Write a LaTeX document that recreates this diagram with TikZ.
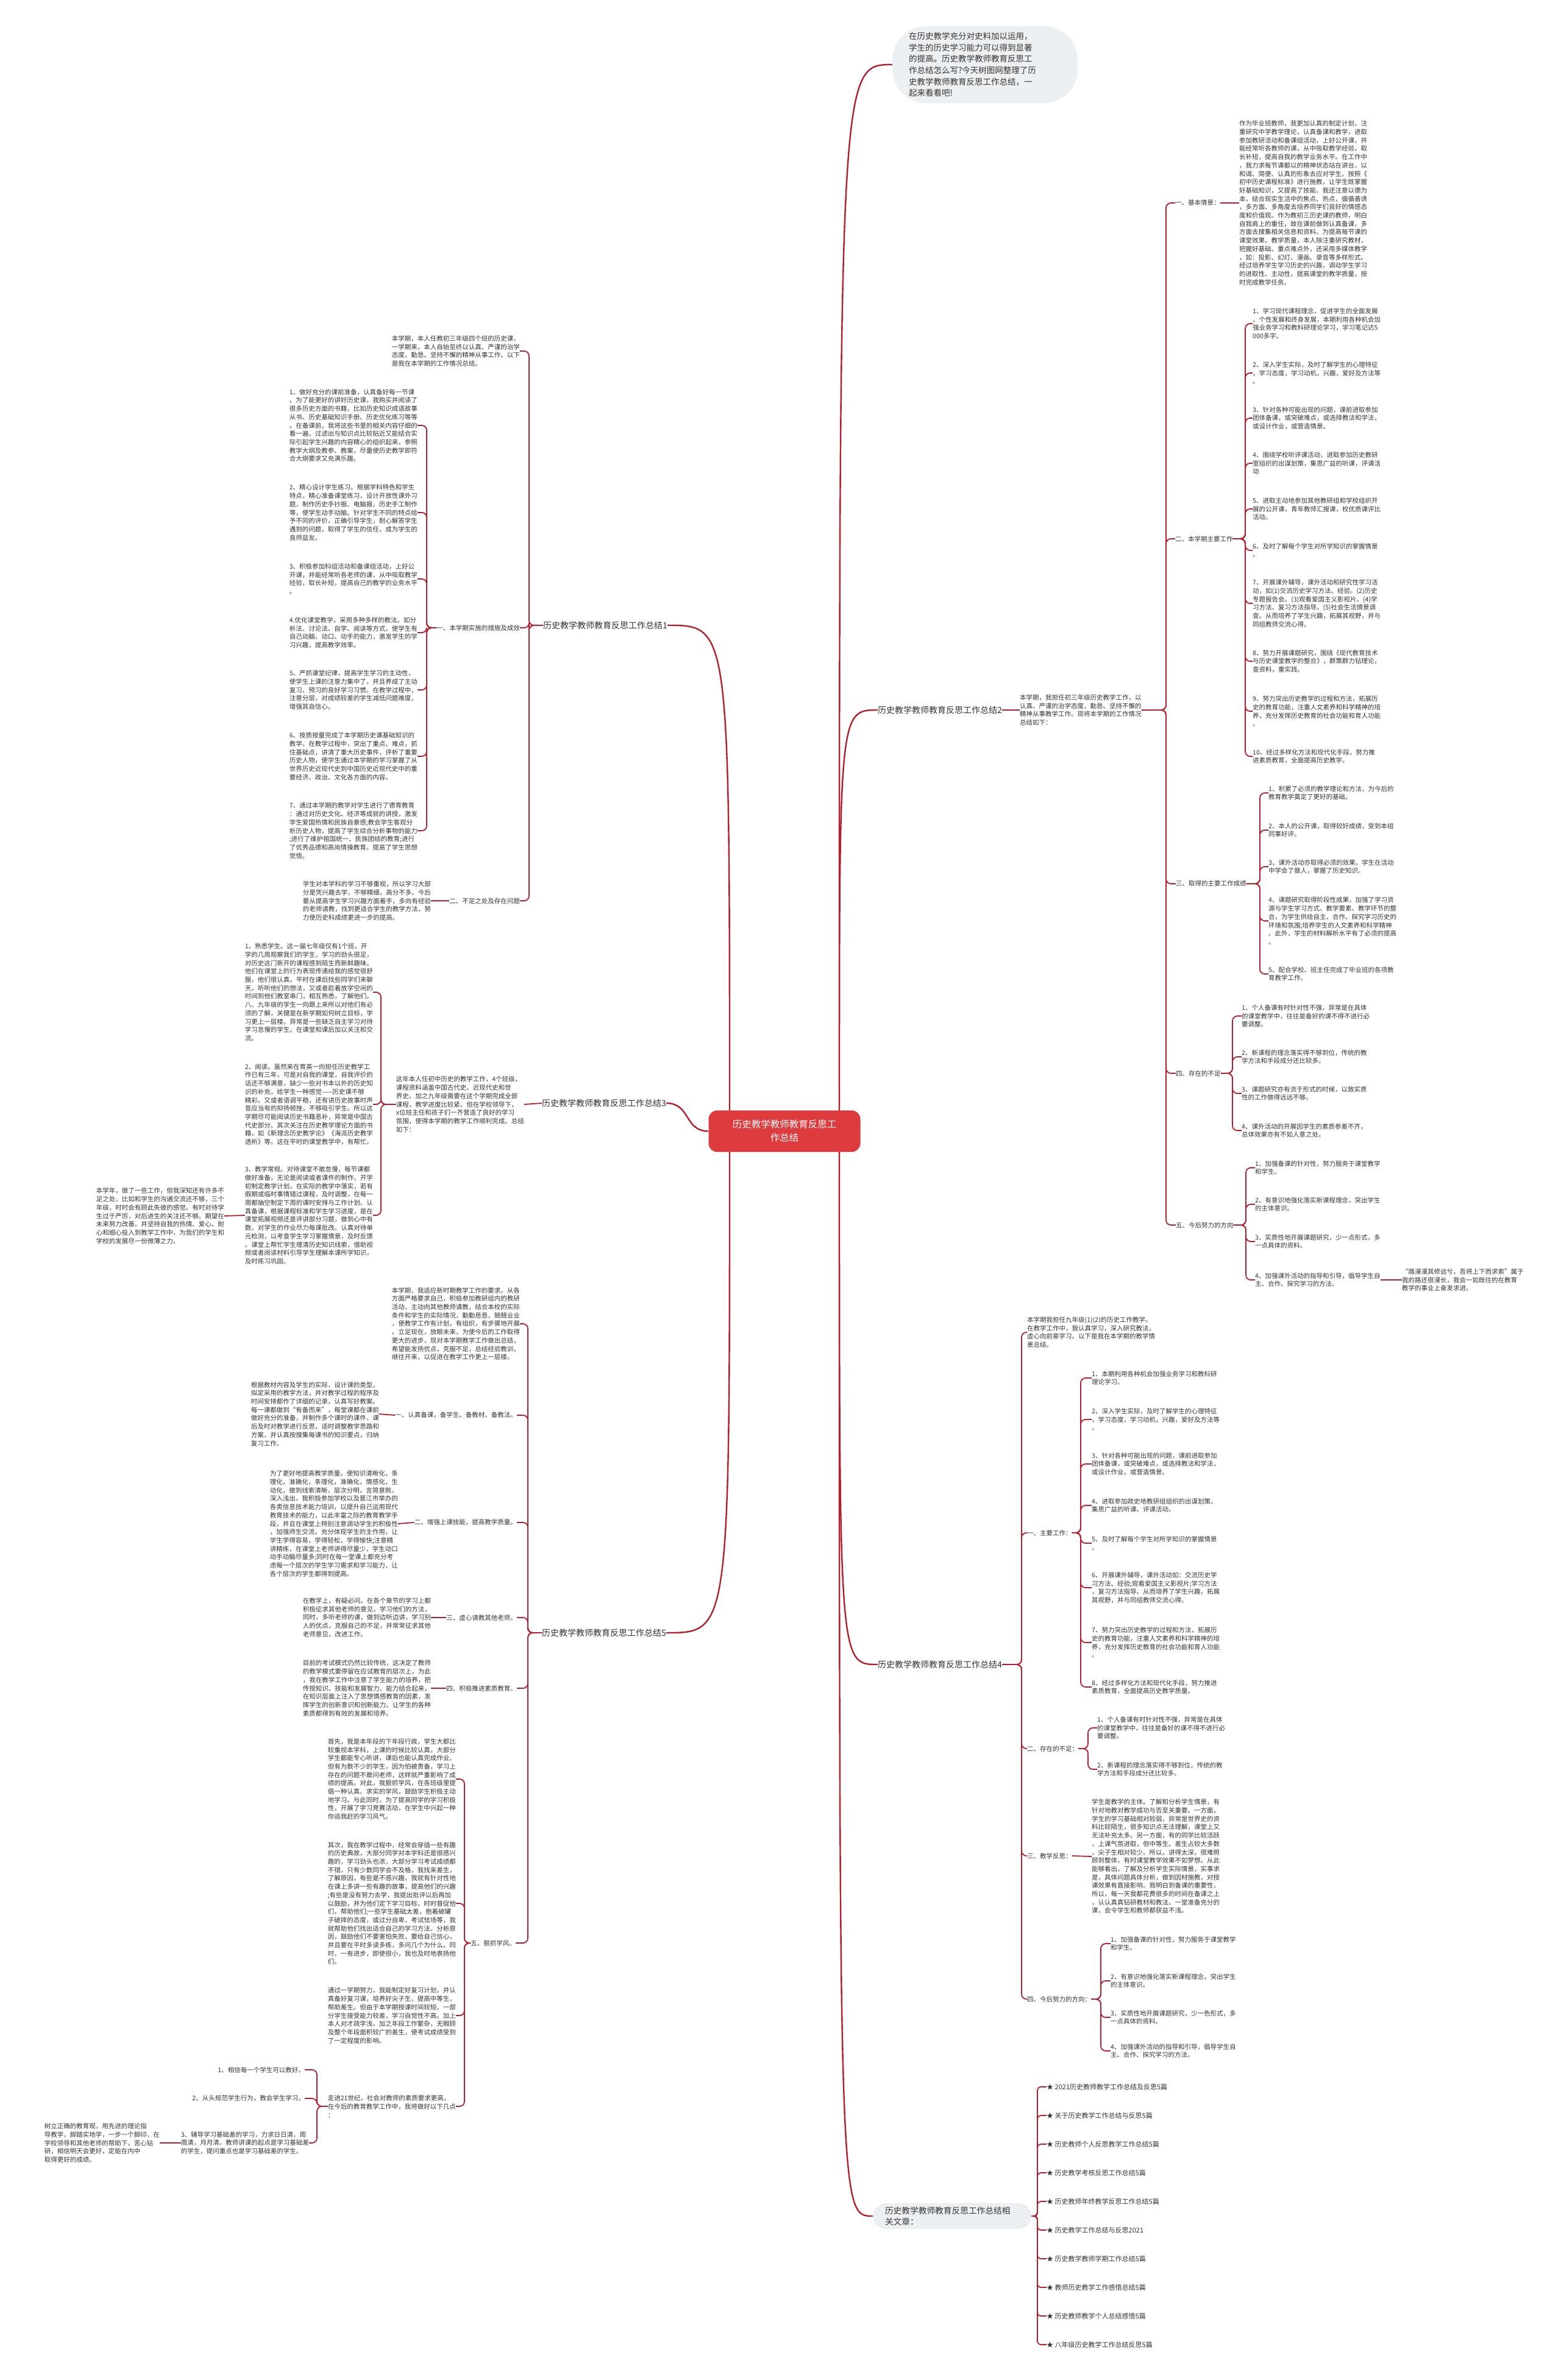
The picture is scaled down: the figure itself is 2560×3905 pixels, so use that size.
\documentclass[tikz,border=0pt]{standalone}
\usepackage{fontspec}
\setmainfont{Noto Sans CJK SC}
\usetikzlibrary{calc}
\definecolor{lr}{HTML}{B2202E}
\definecolor{txt}{HTML}{333333}
\definecolor{cred}{HTML}{DE3B3E}
\definecolor{bub}{HTML}{EDF0F3}
\tikzset{
 body/.style={align=left, inner sep=0pt, text=txt, font=\fontsize{10.5}{13.7}\selectfont},
 lbl/.style={inner sep=0pt, text=txt, font=\fontsize{10.5}{13.7}\selectfont},
 big/.style={inner sep=0pt, text=txt, font=\fontsize{14}{18}\selectfont},
 br/.style={draw=lr, line width=1.8pt, rounded corners=8pt},
 mn/.style={draw=lr, line width=2.4pt},
 rel item/.style={inner sep=0pt, text=txt, font=\fontsize{11}{14}\selectfont, anchor=west},
}
\newcommand\linkR[3]{\draw[br] (#1.east) -| (#2 |- #3.west) -- (#3.west);}
\newcommand\linkL[3]{\draw[br] (#1.west) -| (#2 |- #3.east) -- (#3.east);}
\begin{document}
\begin{tikzpicture}[x=1pt,y=-1pt]
\fill[white] (0,0) rectangle (2560,3905);
\useasboundingbox (0,0) rectangle (2560,3905);

% ---------- centre and first level ----------
\node[fill=cred, rounded corners=14pt, text=white, font=\fontsize{15.5}{22}\selectfont, align=center, minimum width=249pt, minimum height=68pt, inner sep=0pt] (c) at (1287,1856) {历史教学教师教育反思工\\作总结};

\node[fill=bub, rounded corners=55pt, text=txt, font=\fontsize{13.5}{18.7}\selectfont, align=left, text width=250pt, inner xsep=27pt, inner ysep=10pt] (top) at (1616,106) {在历史教学充分对史料加以运用，\\学生的历史学习能力可以得到显著\\的提高。历史教学教师教育反思工\\作总结怎么写?今天树图网整理了历\\史教学教师教育反思工作总结，一\\起来看看吧!};

\node[big, anchor=west] (L1) at (891,1026) {历史教学教师教育反思工作总结1};
\node[big, anchor=west] (L2) at (1440,1165) {历史教学教师教育反思工作总结2};
\node[big, anchor=west] (L3) at (889,1810) {历史教学教师教育反思工作总结3};
\node[big, anchor=west] (L4) at (1440,2731) {历史教学教师教育反思工作总结4};
\node[big, anchor=west] (L5) at (889,2679) {历史教学教师教育反思工作总结5};

\node[fill=bub, rounded corners=22pt, text=txt, font=\fontsize{13.7}{18}\selectfont, align=left, text width=220pt, inner xsep=20pt, inner ysep=6pt] (rel) at (1562,3636) {历史教学教师教育反思工作总结相\\关文章：};

\coordinate (cne) at (1377,1822);
\coordinate (cse) at (1377,1890);
\coordinate (cnw) at (1197,1822);
\coordinate (csw) at (1197,1890);
\draw[mn] (cne) .. controls (cne |- top.west) .. (top.west);
\draw[mn] (cne) .. controls (cne |- L2.west) .. (L2.west);
\draw[mn] (cse) .. controls (cse |- L4.west) .. (L4.west);
\draw[mn] (cse) .. controls (cse |- rel.west) .. (rel.west);
\draw[mn] (cnw) .. controls (cnw |- L1.east) .. (L1.east);
\draw[mn] (csw) .. controls (csw |- L5.east) .. (L5.east);
\draw[mn] (c.west) .. controls +(-40,0) and +(40,0) .. (L3.east);

% ---------- branch 1 ----------
\coordinate (s1) at (868,0);
\coordinate (s1a) at (700,0);
\node[body, anchor=east] (b1i) at (853,576) {本学期，本人任教初三年级四个班的历史课，\\一学期来，本人自始至终以认真、严谨的治学\\态度，勤恳、坚持不懈的精神从事工作。以下\\是我在本学期的工作情况总结。};
\node[lbl, anchor=east] (b1a) at (853,1030) {一、本学期实施的措施及成效};
\node[lbl, anchor=east] (b1b) at (853,1478) {二、不足之处及存在问题};
\node[body, anchor=east] (b1a1) at (685,698) {1、做好充分的课前准备，认真备好每一节课\\。为了能更好的讲好历史课，我购买并阅读了\\很多历史方面的书籍，比如历史知识成语故事\\从书、历史基础知识手册、历史优化练习等等\\。在备课前，我将这些书里的相关内容仔细的\\看一遍，过滤出与知识点比较贴近又能结合实\\际引起学生兴趣的内容精心的组织起来，参照\\教学大纲及教参、教案，尽量使历史教学即符\\合大纲要求又充满乐趣。};
\node[body, anchor=east] (b1a2) at (685,841) {2、精心设计学生练习。根据学科特色和学生\\特点，精心准备课堂练习，设计开放性课外习\\题，制作历史手抄报、电脑报，历史手工制作\\等，使学生动手动脑。针对学生不同的特点给\\予不同的评价，正确引导学生，耐心解答学生\\遇到的问题，取得了学生的信任，成为学生的\\良师益友。};
\node[body, anchor=east] (b1a3) at (685,950) {3、积极参加科组活动和备课组活动，上好公\\开课，并能经常听各老师的课，从中吸取教学\\经验，取长补短，提高自己的教学的业务水平\\。};
\node[body, anchor=east] (b1a4) at (685,1038) {4.优化课堂教学，采用多种多样的教法。如分\\析法、讨论法、自学、阅读等方式，使学生有\\自己动脑、动口、动手的能力，激发学生的学\\习兴趣，提高教学效率。};
\node[body, anchor=east] (b1a5) at (685,1132) {5、严抓课堂纪律，提高学生学习的主动性，\\使学生上课的注意力集中了，并且养成了主动\\复习、预习的良好学习习惯。在教学过程中，\\注意分层，对成绩较差的学生减低问题难度，\\增强其自信心。};
\node[body, anchor=east] (b1a6) at (685,1241) {6、按质按量完成了本学期历史课基础知识的\\教学。在教学过程中，突出了重点、难点，抓\\住基础点，讲清了重大历史事件，评析了重要\\历史人物，使学生通过本学期的学习掌握了从\\世界历史近现代史到中国历史近现代史中的重\\要经济、政治、文化各方面的内容。};
\node[body, anchor=east] (b1a7) at (685,1363) {7、通过本学期的教学对学生进行了德育教育\\：通过对历史文化、经济等成就的讲授，激发\\学生爱国热情和民族自豪感;教会学生客观分\\析历史人物，提高了学生综合分析事物的能力\\;进行了维护祖国统一、民族团结的教育;进行\\了优秀品德和高尚情操教育。提高了学生思想\\觉悟。};
\node[body, anchor=east] (b1bt) at (707,1478) {学生对本学科的学习不够重视，所以学习大部\\分是凭兴趣去学，不够精细，高分不多。今后\\要从提高学生学习兴趣方面着手，多向有经验\\的老师请教，找到更适合学生的教学方法，努\\力使历史科成绩更进一步的提高。};
\linkL{L1}{s1}{b1i}
\linkL{L1}{s1}{b1a}
\linkL{L1}{s1}{b1b}
\linkL{b1a}{s1a}{b1a1}
\linkL{b1a}{s1a}{b1a2}
\linkL{b1a}{s1a}{b1a3}
\linkL{b1a}{s1a}{b1a4}
\linkL{b1a}{s1a}{b1a5}
\linkL{b1a}{s1a}{b1a6}
\linkL{b1a}{s1a}{b1a7}
\draw[br] (b1b.west) -- (b1bt.east);

% ---------- branch 3 ----------
\coordinate (s3) at (625,0);
\node[body, anchor=east] (b3i) at (860,1812) {这年本人任初中历史的教学工作，4个班级，\\课程资料涵盖中国古代史、近现代史和世\\界史。加之九年级需要在这个学期完成全部\\课程，教学进度比较紧。但在学校领导下，\\x位班主任和孩子们一齐营造了良好的学习\\氛围，使得本学期的教学工作顺利完成。总结\\如下：};
\node[body, anchor=east] (b3a) at (612,1628) {1、熟悉学生。这一届七年级仅有1个班，开\\学的几周观察我们的学生，学习的劲头很足，\\对历史这门新开的课程感到陌生而新鲜趣味。\\他们在课堂上的行为表现传递给我的感觉很舒\\服，他们很认真。平时在课后找些同学们来聊\\天，听听他们的想法，又或者趁着放学空闲的\\时间到他们教室串门，相互熟悉，了解他们。\\八、九年级的学生一向跟上来所以对他们有必\\须的了解，关键是在新学期如何树立目标，学\\习更上一层楼。异常是一些缺乏自主学习对待\\学习怠慢的学生。在课堂和课后加以关注和交\\流。};
\node[body, anchor=east] (b3b) at (612,1812) {2、阅读。虽然来在育英一向担任历史教学工\\作已有三年，可是对自我的课堂，自我评价的\\话还不够满意，缺少一些对书本以外的历史知\\识的补充，给学生一种感觉——历史课不够\\精彩。又或者语调平稳，还有讲历史故事时声\\音应当有的抑扬顿挫，不够吸引学生。所以这\\学期尽可能阅读历史书籍恶补，异常是中国古\\代史部分。其次关注在历史教学理论方面的书\\籍，如《新理念历史教学论》《海派历史教学\\透析》等。这在平时的课堂教学中，有帮忙。};
\node[body, anchor=east] (b3c) at (612,1994) {3、教学常规。对待课堂不敢怠慢，每节课都\\做好准备，无论是阅读或者课件的制作。开学\\初制定教学计划，在实际的教学中落实，若有\\假期或临时事情错过课程，及时调整，在每一\\周都抽空制定下周的课时安排与工作计划。认\\真备课，根据课程标准和学生学习进度，是在\\课堂拓展视频还是评讲部分习题，做到心中有\\数。对学生的作业尽力每课批改。认真对待单\\元检测，以考查学生学习掌握情景，及时反馈\\。课堂上帮忙学生理清历史知识线索，借助视\\频或者阅读材料引导学生理解本课所学知识，\\及时练习巩固。};
\node[body, anchor=east] (b3cc) at (368,1995) {本学年，做了一些工作，但我深知还有许多不\\足之处，比如和学生的沟通交流还不够，三个\\年级，时时会有顾此失彼的感觉。有时对待学\\生过于严厉，对后进生的关注还不够。期望在\\未来努力改善。并坚持自我的热情、爱心、耐\\心和细心投入到教学工作中，为我们的学生和\\学校的发展尽一份微薄之力。};
\draw[br] (L3.west) -- (b3i.east);
\linkL{b3i}{s3}{b3a}
\linkL{b3i}{s3}{b3b}
\linkL{b3i}{s3}{b3c}
\draw[br] (b3c.west) -- (b3cc.east);

% ---------- branch 5 ----------
\coordinate (s5) at (866,0);
\coordinate (s5e) at (762,0);
\coordinate (s5z) at (520,0);
\node[body, anchor=east] (b5i) at (853,2172) {本学期，我适应新时期教学工作的要求。从各\\方面严格要求自己，积极参加教研组内的教研\\活动，主动向其他教师请教，结合本校的实际\\条件和学生的实际情况，勤勤恳恳，兢兢业业\\，使教学工作有计划，有组织，有步骤地开展\\。立足现在，放眼未来，为使今后的工作取得\\更大的进步，现对本学期教学工作做出总结，\\希望能发扬优点，克服不足，总结经验教训，\\继往开来，以促进在教学工作更上一层楼。};
\node[lbl, anchor=east] (b5a) at (848,2322) {一、认真备课，备学生、备教材、备教法。};
\node[body, anchor=east] (b5at) at (622,2320) {根据教材内容及学生的实际，设计课的类型，\\拟定采用的教学方法，并对教学过程的程序及\\时间安排都作了详细的记录，认真写好教案。\\每一课都做到“有备而来”，每堂课都在课前\\做好充分的准备，并制作多个课时的课件，课\\后及时对教学进行反思，适时调整教学思路和\\方案，并认真按搜集每课书的知识要点，归纳\\复习工作。};
\node[lbl, anchor=east] (b5b) at (848,2498) {二、增强上课技能，提高教学质量。};
\node[body, anchor=east] (b5bt) at (653,2500) {为了更好地提高教学质量，使知识清晰化，条\\理化，准确化，条理化，准确化，情感化，生\\动化，做到线索清晰，层次分明，言简意赅，\\深入浅出，我积极参加学校以及晋江市举办的\\各类信息技术能力培训，以提升自己运用现代\\教育技术的能力，以此丰富之际的教育教学手\\段，并且在课堂上特别注意调动学生的积极性\\，加强师生交流，充分体现学生的主作用，让\\学生学得容易，学得轻松，学得愉快;注意精\\讲精练，在课堂上老师讲得尽量少，学生动口\\动手动脑尽量多;同时在每一堂课上都充分考\\虑每一个层次的学生学习需求和学习能力，让\\各个层次的学生都得到提高。};
\node[lbl, anchor=east] (b5c) at (848,2654) {三、虚心请教其他老师。};
\node[body, anchor=east] (b5ct) at (707,2654) {在教学上，有疑必问。在各个章节的学习上都\\积极征求其他老师的意见，学习他们的方法，\\同时，多听老师的课，做到边听边讲，学习别\\人的优点，克服自己的不足，并常常征求其他\\老师意见，改进工作。};
\node[lbl, anchor=east] (b5d) at (848,2770) {四、积极推进素质教育。};
\node[body, anchor=east] (b5dt) at (707,2770) {目前的考试模式仍然比较传统，这决定了教师\\的教学模式要停留在应试教育的层次上，为此\\，我在教学工作中注意了学生能力的培养，把\\传授知识、技能和发展智力、能力结合起来，\\在知识层面上注入了思想情感教育的因素，发\\挥学生的创新意识和创新能力。让学生的各种\\素质都得到有效的发展和培养。};
\node[lbl, anchor=east] (b5e) at (846,3188) {五、狠抓学风。};
\node[body, anchor=east] (b5e1) at (748,2919) {首先，我是本年段的下年段行政，学生大都比\\较重视本学科，上课的时候比较认真，大部分\\学生都能专心听讲，课后也能认真完成作业。\\但有为数不少的学生，因为怕被责备，学习上\\存在的问题不敢问老师，这样就严重影响了成\\绩的提高。对此，我狠抓学风，在各班级里提\\倡一种认真、求实的学风，鼓励学生积极主动\\地学习。与此同时，为了提高同学的学习积极\\性，开展了学习竞赛活动，在学生中兴起一种\\你追我赶的学习风气。};
\node[body, anchor=east] (b5e2) at (748,3123) {其次，我在教学过程中，经常会穿插一些有趣\\的历史典故，大部分同学对本学科还是很感兴\\趣的，学习劲头也浓，大部分学习考试成绩都\\不错，只有少数同学会不及格，我找来差生，\\了解原因，有些是不感兴趣，我就有针对性地\\在课上多讲一些有趣的故事，提高他们的兴趣\\;有些是没有努力去学，我提出批评以后再加\\以鼓励，并为他们定下学习目标，时时督促他\\们，帮助他们;一些学生基础太差，抱着破罐\\子破摔的态度，或过分自卑，考试怯场等，我\\就帮助他们找出适合自己的学习方法，分析原\\因，鼓励他们不要害怕失败，要给自己信心，\\并且要在平时多读多练，多问几个为什么。同\\时，一有进步，即使很小，我也及时地表扬他\\们。};
\node[body, anchor=east] (b5e3) at (748,3307) {通过一学期努力，我能制定好复习计划，并认\\真备好复习课，培养好尖子生，提高中等生，\\帮助差生。但由于本学期授课时间较短，一部\\分学生接受能力较差，学习自觉性不高。加上\\本人对才疏学浅，加之年段工作繁杂，无暇顾\\及整个年段面积较广的差生，使考试成绩受到\\了一定程度的影响。};
\node[body, anchor=east] (b5e4) at (748,3456) {走进21世纪，社会对教师的素质要求更高，\\在今后的教育教学工作中，我将做好以下几点\\：};
\node[lbl, anchor=east] (z1) at (500,3396) {1、相信每一个学生可以教好。};
\node[lbl, anchor=east] (z2) at (500,3443) {2、从头规范学生行为，教会学生学习。};
\node[body, anchor=east] (z3) at (507,3516) {3、辅导学习基础差的学习，力求日日清，周\\周清，月月清。教师讲课的起点是学习基础差\\的学生，提问重点也是学习基础差的学生。};
\node[body, anchor=east] (z3c) at (262,3516) {树立正确的教育观，用先进的理论指\\导教学，脚踏实地学，一步一个脚印，在\\学校领导和其他老师的帮助下，苦心钻\\研，相信明天会更好，定能在内中\\取得更好的成绩。};
\linkL{L5}{s5}{b5i}
\linkL{L5}{s5}{b5a}
\linkL{L5}{s5}{b5b}
\linkL{L5}{s5}{b5c}
\linkL{L5}{s5}{b5d}
\linkL{L5}{s5}{b5e}
\draw[br] (b5a.west) -- (b5at.east);
\draw[br] (b5b.west) -- (b5bt.east);
\draw[br] (b5c.west) -- (b5ct.east);
\draw[br] (b5d.west) -- (b5dt.east);
\linkL{b5e}{s5e}{b5e1}
\linkL{b5e}{s5e}{b5e2}
\linkL{b5e}{s5e}{b5e3}
\linkL{b5e}{s5e}{b5e4}
\linkL{b5e4}{s5z}{z1}
\linkL{b5e4}{s5z}{z2}
\linkL{b5e4}{s5z}{z3}
\draw[br] (z3.west) -- (z3c.east);

% ---------- branch 2 ----------
\coordinate (s2) at (1913,0);
\coordinate (s2b) at (2043,0);
\coordinate (s2c) at (2067,0);
\coordinate (s2d) at (2022,0);
\coordinate (s2e) at (2044,0);
\node[body, anchor=west] (b2i) at (1673,1165) {本学期，我担任初三年级历史教学工作，以\\认真、严谨的治学态度，勤恳、坚持不懈的\\精神从事教学工作。现将本学期的工作情况\\总结如下：};
\node[lbl, anchor=west] (b2a) at (1928,333) {一、基本情景：};
\node[body, anchor=west] (b2at) at (2033,333) {作为毕业班教师，我更加认真的制定计划，注\\重研究中学教学理论，认真备课和教学，进取\\参加教研活动和备课组活动，上好公开课，并\\能经常听各教师的课，从中吸取教学经验，取\\长补短，提高自我的教学业务水平。在工作中\\，我力求每节课都以的精神状态站在讲台，以\\和谒、简便、认真的形象去应对学生。按照《\\初中历史课程标准》进行施教，让学生既掌握\\好基础知识，又提高了技能。我还注意以德为\\本，结合现实生活中的焦点、热点，循循善诱\\，多方面、多角度去培养同学们良好的情感态\\度和价值观。作为教初三历史课的教师，明白\\自我肩上的重任，故在课前做到认真备课，多\\方面去搜集相关信息和资料。为提高每节课的\\课堂效果、教学质量，本人除注重研究教材，\\把握好基础、重点难点外，还采用多媒体教学\\，如：投影、幻灯、漫画、录音等多样形式。\\经过培养学生学习历史的兴趣，调动学生学习\\的进取性、主动性，提高课堂的教学质量，按\\时完成教学任务。};
\node[lbl, anchor=west] (b2b) at (1928,884) {二、本学期主要工作};
\node[body, anchor=west] (b2b1) at (2055,531) {1、学习现代课程理念，促进学生的全面发展\\、个性发展和终身发展，本期利用各种机会加\\强业务学习和教科研理论学习，学习笔记达5\\000多字。};
\node[body, anchor=west] (b2b2) at (2055,612) {2、深入学生实际，及时了解学生的心理特征\\，学习态度，学习动机，兴趣，爱好及方法等\\。};
\node[body, anchor=west] (b2b3) at (2055,686) {3、针对各种可能出现的问题，课前进取参加\\团体备课，或突破难点，或选择教法和学法，\\或设计作业，或营造情景。};
\node[body, anchor=west] (b2b4) at (2055,760) {4、围绕学校听评课活动，进取参加历史教研\\室组织的出谋划策，集思广益的听课，评课活\\动};
\node[body, anchor=west] (b2b5) at (2055,835) {5、进取主动地参加其他教研组和学校组织开\\展的公开课，青年教师汇报课，校优质课评比\\活动。};
\node[body, anchor=west] (b2b6) at (2055,903) {6、及时了解每个学生对所学知识的掌握情景\\。};
\node[body, anchor=west] (b2b7) at (2055,990) {7、开展课外辅导，课外活动和研究性学习活\\动，如(1)交流历史学习方法、经验。(2)历史\\专题报告会。(3)观看爱国主义影视片。(4)学\\习方法、复习方法指导。(5)社会生活情景调\\查。从而培养了学生兴趣，拓展其视野，并与\\同组教师交流心得。};
\node[body, anchor=west] (b2b8) at (2055,1085) {8、努力开展课题研究，围绕《现代教育技术\\与历史课堂教学的整合》，群策群力钻理论，\\查资料，重实践。};
\node[body, anchor=west] (b2b9) at (2055,1167) {9、努力突出历史教学的过程和方法，拓展历\\史的教育功能，注重人文素养和科学精神的培\\养，充分发挥历史教育的社会功能和育人功能\\。};
\node[body, anchor=west] (b2b10) at (2055,1241) {10、经过多样化方法和现代化手段，努力推\\进素质教育，全面提高历史教学。};
\node[lbl, anchor=west] (b2c) at (1929,1450) {三、取得的主要工作成绩};
\node[body, anchor=west] (b2c1) at (2081,1301) {1、积累了必须的教学理论和方法，为今后的\\教育教学奠定了更好的基础。};
\node[body, anchor=west] (b2c2) at (2081,1362) {2、本人的公开课，取得较好成绩，受到本组\\同事好评。};
\node[body, anchor=west] (b2c3) at (2081,1422) {3、课外活动亦取得必须的效果。学生在活动\\中学会了做人，掌握了历史知识。};
\node[body, anchor=west] (b2c4) at (2081,1511) {4、课题研究取得阶段性成果，加强了学习资\\源与学生学习方式、教学要素、教学环节的整\\合，为学生供给自主、合作、探究学习历史的\\环境和氛围;培养学生的人文素养和科学精神\\。此外，学生的材料解析水平有了必须的提高\\。};
\node[body, anchor=west] (b2c5) at (2081,1598) {5、配合学校、班主任完成了毕业班的各项教\\育教学工作。};
\node[lbl, anchor=west] (b2d) at (1929,1761) {四、存在的不足};
\node[body, anchor=west] (b2d1) at (2037,1667) {1、个人备课有时针对性不强，异常是在具体\\的课堂教学中，往往是备好的课不得不进行必\\要调整。};
\node[body, anchor=west] (b2d2) at (2037,1734) {2、新课程的理念落实得不够到位，传统的教\\学方法和手段成分还比较多。};
\node[body, anchor=west] (b2d3) at (2037,1794) {3、课题研究亦有流于形式的时候，以致实质\\性的工作做得远远不够。};
\node[body, anchor=west] (b2d4) at (2037,1855) {4、课外活动的开展因学生的素质参差不齐，\\总体效果亦有不如人意之处。};
\node[lbl, anchor=west] (b2e) at (1929,2010) {五、今后努力的方向};
\node[body, anchor=west] (b2e1) at (2059,1916) {1、加强备课的针对性，努力服务于课堂教学\\和学生。};
\node[body, anchor=west] (b2e2) at (2059,1976) {2、有意识地强化落实新课程理念，突出学生\\的主体意识。};
\node[body, anchor=west] (b2e3) at (2059,2037) {3、实质性地开展课题研究，少一点形式，多\\一点具体的资料。};
\node[body, anchor=west] (b2e4) at (2059,2100) {4、加强课外活动的指导和引导，倡导学生自\\主、合作、探究学习的方法。};
\node[body, anchor=west] (b2e4q) at (2300,2100) {“路漫漫其修远兮，吾将上下而求索”属于\\我的路还很漫长，我会一如既往的在教育\\教学的事业上奋发求进。};
\draw[br] (L2.east) -- (b2i.west);
\linkR{b2i}{s2}{b2a}
\linkR{b2i}{s2}{b2b}
\linkR{b2i}{s2}{b2c}
\linkR{b2i}{s2}{b2d}
\linkR{b2i}{s2}{b2e}
\draw[br] (b2a.east) -- (b2at.west);
\foreach \i in {1,...,10} {\linkR{b2b}{s2b}{b2b\i}}
\foreach \i in {1,...,5} {\linkR{b2c}{s2c}{b2c\i}}
\foreach \i in {1,...,4} {\linkR{b2d}{s2d}{b2d\i}}
\foreach \i in {1,...,4} {\linkR{b2e}{s2e}{b2e\i}}
\draw[br] (b2e4.east) -- (b2e4q.west);

% ---------- branch 4 ----------
\coordinate (s4) at (1676,0);
\coordinate (s4a) at (1773,0);
\coordinate (s4b) at (1785,0);
\coordinate (s4d) at (1806,0);
\node[body, anchor=west] (b4i) at (1685,2186) {本学期我担任九年级(1)(2)的历史工作教学。\\在教学工作中，我认真学习，深入研究教法，\\虚心向前辈学习。以下是我在本学期的教学情\\景总结。};
\node[lbl, anchor=west] (b4a) at (1685,2515) {一、主要工作：};
\node[body, anchor=west] (b4a1) at (1791,2261) {1、本期利用各种机会加强业务学习和教科研\\理论学习。};
\node[body, anchor=west] (b4a2) at (1791,2329) {2、深入学生实际，及时了解学生的心理特征\\，学习态度，学习动机，兴趣，爱好及方法等\\。};
\node[body, anchor=west] (b4a3) at (1791,2402) {3、针对各种可能出现的问题，课前进取参加\\团体备课，或突破难点，或选择教法和学法，\\或设计作业，或营造情景。};
\node[body, anchor=west] (b4a4) at (1791,2470) {4、进取参加政史地教研组组织的出谋划策、\\集思广益的听课、评课活动。};
\node[body, anchor=west] (b4a5) at (1791,2532) {5、及时了解每个学生对所学知识的掌握情景\\。};
\node[body, anchor=west] (b4a6) at (1791,2605) {6、开展课外辅导，课外活动如：交流历史学\\习方法、经验;观看爱国主义影视片;学习方法\\，复习方法指导。从而培养了学生兴趣，拓展\\其视野，并与同组教师交流心得。};
\node[body, anchor=west] (b4a7) at (1791,2695) {7、努力突出历史教学的过程和方法，拓展历\\史的教育功能，注重人文素养和科学精神的培\\养，充分发挥历史教育的社会功能和育人功能\\。};
\node[body, anchor=west] (b4a8) at (1791,2768) {8、经过多样化方法和现代化手段，努力推进\\素质教育，全面提高历史教学质量。};
\node[lbl, anchor=west] (b4b) at (1685,2869) {二、存在的不足：};
\node[body, anchor=west] (b4b1) at (1800,2835) {1、个人备课有时针对性不强，异常是在具体\\的课堂教学中，往往是备好的课不得不进行必\\要调整。};
\node[body, anchor=west] (b4b2) at (1800,2903) {2、新课程的理念落实得不够到位，传统的教\\学方法和手段成分还比较多。};
\node[lbl, anchor=west] (b4c) at (1685,3045) {三、教学反思：};
\node[body, anchor=west] (b4ct) at (1791,3046) {学生是教学的主体。了解和分析学生情景，有\\针对地教对教学成功与否至关重要。一方面，\\学生的学习基础相对较弱，异常是世界史的资\\料比较陌生，很多知识点无法理解，课堂上又\\无法补充太多。另一方面，有的同学比较活跃\\，上课气氛进取，但中等生、差生占较大多数\\，尖子生相对较少。所以，讲得太深，很难照\\顾到整体，有时课堂教学效果不如梦想。从此\\能够看出，了解及分析学生实际情景，实事求\\是，具体问题具体分析，做到因材施教，对授\\课效果有直接影响。我明白到备课的重要性，\\所以，每一天我都花费很多的时间在备课之上\\，认认真真钻研教材和教法。一堂准备充分的\\课，会令学生和教师都获益不浅。};
\node[lbl, anchor=west] (b4d) at (1685,3280) {四、今后努力的方向：};
\node[body, anchor=west] (b4d1) at (1822,3189) {1、加强备课的针对性，努力服务于课堂教学\\和学生。};
\node[body, anchor=west] (b4d2) at (1822,3250) {2、有意识地强化落实新课程理念，突出学生\\的主体意识。};
\node[body, anchor=west] (b4d3) at (1822,3310) {3、实质性地开展课题研究，少一色形式，多\\一点具体的资料。};
\node[body, anchor=west] (b4d4) at (1822,3365) {4、加强课外活动的指导和引导，倡导学生自\\主、合作、探究学习的方法。};
\linkR{L4}{s4}{b4i}
\linkR{L4}{s4}{b4a}
\linkR{L4}{s4}{b4b}
\linkR{L4}{s4}{b4c}
\linkR{L4}{s4}{b4d}
\foreach \i in {1,...,8} {\linkR{b4a}{s4a}{b4a\i}}
\foreach \i in {1,2} {\linkR{b4b}{s4b}{b4b\i}}
\draw[br] (b4c.east) -- (b4ct.west);
\foreach \i in {1,...,4} {\linkR{b4d}{s4d}{b4d\i}}

% ---------- related articles ----------
\coordinate (s6) at (1702,0);
\node[rel item] (r1) at (1717,3424) {★ 2021历史教师教学工作总结及反思5篇};
\node[rel item] (r2) at (1717,3471) {★ 关于历史教学工作总结与反思5篇};
\node[rel item] (r3) at (1717,3518) {★ 历史教师个人反思教学工作总结5篇};
\node[rel item] (r4) at (1717,3565) {★ 历史教学考核反思工作总结5篇};
\node[rel item] (r5) at (1717,3612) {★ 历史教师年终教学反思工作总结5篇};
\node[rel item] (r6) at (1717,3659) {★ 历史教学工作总结与反思2021};
\node[rel item] (r7) at (1717,3706) {★ 历史教学教师学期工作总结5篇};
\node[rel item] (r8) at (1717,3753) {★ 教师历史教学工作感悟总结5篇};
\node[rel item] (r9) at (1717,3800) {★ 历史教师教学个人总结感悟5篇};
\node[rel item] (r10) at (1717,3847) {★ 八年级历史教学工作总结反思5篇};
\foreach \i in {1,...,10} {\draw[br, rounded corners=6pt] (rel.east) -| (s6 |- r\i.west) -- (r\i.west);}
\end{tikzpicture}
\end{document}
